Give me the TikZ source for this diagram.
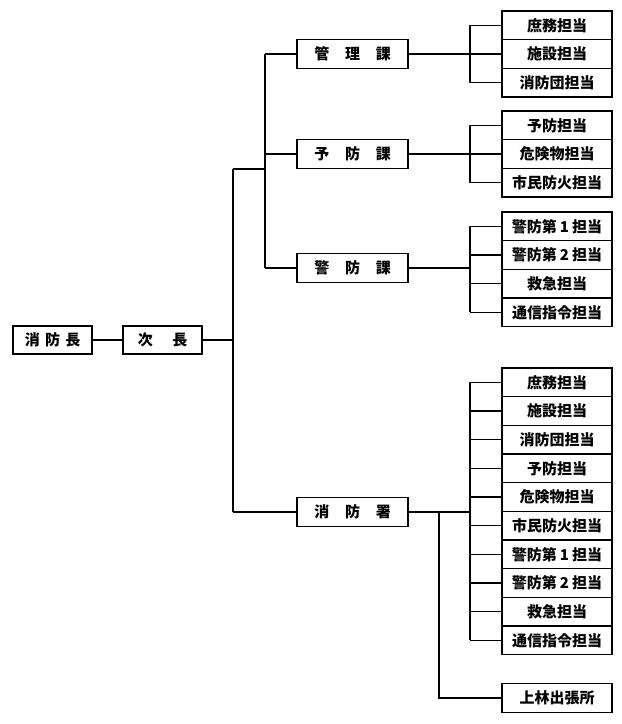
\documentclass[tikz,border=0pt]{standalone}
\usepackage{fontspec}
\newfontfamily\jp{Noto Sans CJK JP}
\begin{document}
\begin{tikzpicture}[x=1pt,y=-1pt,
  base/.style={draw, line width=1.5pt, inner sep=0pt, outer sep=0pt, font=\jp\bfseries\fontsize{15}{17}\selectfont},
  leaf/.style={base, minimum width=110pt, minimum height=28.67pt},
  mid/.style={base, minimum width=111pt, minimum height=29pt},
  top/.style={base, minimum width=79pt, minimum height=28pt},
  conn/.style={line width=1.4pt}]
\useasboundingbox (0,0) rectangle (622,724);
% top level
\node[top] (shocho) at (52.5,340) {消\hspace{0.35em}防\hspace{0.35em}長};
\node[top] (jicho) at (162.5,340) {次\hspace{1.3em}長};
% middle level
\node[mid] (kanri) at (352.5,54) {管\hspace{1.05em}理\hspace{1.05em}課};
\node[mid] (yobo) at (352.5,154) {予\hspace{1.05em}防\hspace{1.05em}課};
\node[mid] (keibo) at (352.5,268) {警\hspace{1.05em}防\hspace{1.05em}課};
\node[mid] (sho) at (352.5,512) {消\hspace{1.05em}防\hspace{1.05em}署};
% group 1
\node[leaf] (a1) at (557,25.33) {庶務担当};
\node[leaf] (a2) at (557,54) {施設担当};
\node[leaf] (a3) at (557,82.67) {消防団担当};
% group 2
\node[leaf] (b1) at (557,125.33) {予防担当};
\node[leaf] (b2) at (557,154) {危険物担当};
\node[leaf] (b3) at (557,182.67) {市民防火担当};
% group 3
\node[leaf] (c1) at (557,226.33) {警防第\hspace{0.2em}1\hspace{0.2em}担当};
\node[leaf] (c2) at (557,255) {警防第\hspace{0.2em}2\hspace{0.2em}担当};
\node[leaf] (c3) at (557,283.67) {救急担当};
\node[leaf] (c4) at (557,312.33) {通信指令担当};
% group 4
\node[leaf] (d1) at (557,382.33) {庶務担当};
\node[leaf] (d2) at (557,411) {施設担当};
\node[leaf] (d3) at (557,439.67) {消防団担当};
\node[leaf] (d4) at (557,468.33) {予防担当};
\node[leaf] (d5) at (557,497) {危険物担当};
\node[leaf] (d6) at (557,525.67) {市民防火担当};
\node[leaf] (d7) at (557,554.33) {警防第\hspace{0.2em}1\hspace{0.2em}担当};
\node[leaf] (d8) at (557,583) {警防第\hspace{0.2em}2\hspace{0.2em}担当};
\node[leaf] (d9) at (557,611.67) {救急担当};
\node[leaf] (d10) at (557,640.33) {通信指令担当};
\node[leaf] (e1) at (557,698) {上林出張所};
% coordinates
\coordinate (t1) at (233,169);
\coordinate (t2) at (233,512);
\coordinate (m1) at (265,54);
\coordinate (m2) at (265,268);
\coordinate (bx) at (470,0);
\coordinate (sx) at (439,512);
% connectors left
\draw[conn] (shocho.east) -- (jicho.west);
\draw[conn] (jicho.east) -- (jicho.east -| t1);
\draw[conn] (t1) -- (t2);
\draw[conn] (t1) -- (t1 -| m1);
\draw[conn] (m1) -- (m2);
\draw[conn] (m1) -- (kanri.west);
\draw[conn] (yobo.west -| m1) -- (yobo.west);
\draw[conn] (m2) -- (keibo.west);
\draw[conn] (t2) -- (sho.west);
% group connectors
\draw[conn] (kanri.east) -- (kanri.east -| bx);
\draw[conn] (a1.west -| bx) -- (a3.west -| bx);
\foreach \n in {a1,a2,a3} \draw[conn] (\n.west -| bx) -- (\n.west);
\draw[conn] (yobo.east) -- (yobo.east -| bx);
\draw[conn] (b1.west -| bx) -- (b3.west -| bx);
\foreach \n in {b1,b2,b3} \draw[conn] (\n.west -| bx) -- (\n.west);
\draw[conn] (keibo.east) -- (keibo.east -| bx);
\draw[conn] (c1.west -| bx) -- (c4.west -| bx);
\foreach \n in {c1,c2,c3,c4} \draw[conn] (\n.west -| bx) -- (\n.west);
\draw[conn] (sho.east) -- (sho.east -| bx);
\draw[conn] (d1.west -| bx) -- (d10.west -| bx);
\foreach \n in {d1,d2,d3,d4,d5,d6,d7,d8,d9,d10} \draw[conn] (\n.west -| bx) -- (\n.west);
\draw[conn] (sx) -- (e1.west -| sx) -- (e1.west);
\end{tikzpicture}
\end{document}
